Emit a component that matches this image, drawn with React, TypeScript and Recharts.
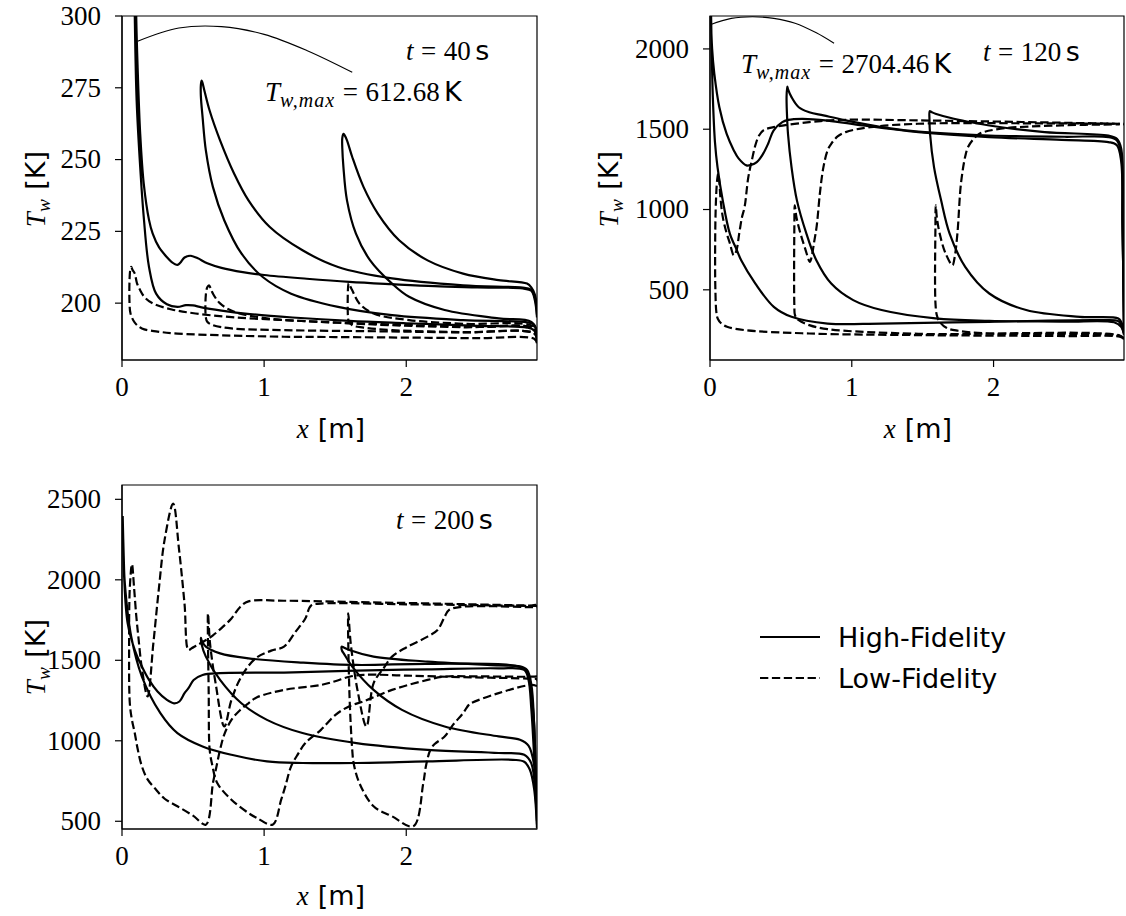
import React from 'react';
import { LineChart, Line, XAxis, YAxis, ReferenceArea } from 'recharts';

type P = [number, number];

// ---------- axes ----------
const X_TICKS = [0, 1, 2];
const X_DOMAIN: [number, number] = [0, 2.92];
const Y_TICKS_40 = [200, 225, 250, 275, 300];
const Y_TICKS_120 = [500, 1000, 1500, 2000];
const Y_TICKS_200 = [500, 1000, 1500, 2000, 2500];
const Y_DOMAIN_40: [number, number] = [180.2, 300];
const Y_DOMAIN_120: [number, number] = [63, 2205];
const Y_DOMAIN_200: [number, number] = [452, 2589];
const TIMES = [40, 120, 200];
const TW_MAX = [612.68, 2704.46];
const LEGEND_LABELS = ['High-Fidelity', 'Low-Fidelity'];

// ---------- t = 40 s ----------
const HF40_A: P[] = [
  [2.92, 195], [2.905, 201], [2.88, 204.3], [2.82, 205.1], [2.5, 205.5], [2.2, 205.9], [1.9, 206.6], [1.6, 207.4],
  [1.3, 208.5], [1.0, 209.8], [0.85, 210.8], [0.7, 212.3], [0.6, 213.9], [0.53, 215.7], [0.48, 216.5], [0.44, 215.9],
  [0.41, 214.1], [0.39, 213.3], [0.35, 214.3], [0.316, 216], [0.26, 219.5], [0.216, 224.2], [0.19, 229], [0.153, 241.6],
  [0.128, 259], [0.11, 282], [0.1, 300], [0.08, 380], [0.06, 612.68], [0.075, 380], [0.09, 300], [0.103, 270.6],
  [0.128, 247.4], [0.153, 230], [0.19, 212.6], [0.24, 203.3], [0.316, 199.6], [0.39, 198.7], [0.45, 199.3], [0.5, 199.2],
  [0.56, 198.5], [0.7, 197.4], [0.9, 196.2], [1.2, 195], [1.6, 193.8], [2.0, 193], [2.5, 192.1], [2.85, 191.5],
  [2.9, 190.5], [2.92, 187],
];
const HF40_B: P[] = [
  [2.92, 196], [2.905, 202], [2.88, 204.6], [2.85, 205.2], [2.4, 206.2], [1.9, 208.6], [1.52, 212.6], [1.27, 218.4],
  [1.04, 226.5], [0.89, 235.8], [0.79, 245], [0.69, 256.7], [0.617, 267], [0.58, 274], [0.565, 277], [0.56, 277.5],
  [0.555, 276], [0.555, 272], [0.567, 264.8], [0.59, 253.2], [0.64, 240.4], [0.72, 228.8], [0.84, 217.3], [0.99, 209.1],
  [1.19, 203.3], [1.52, 198.7], [1.9, 195.8], [2.4, 194.1], [2.85, 193.3], [2.9, 192.5], [2.92, 189],
];
const HF40_C: P[] = [
  [2.92, 198], [2.905, 203], [2.88, 205.5], [2.85, 206.8], [2.65, 208], [2.4, 210.3], [2.15, 214.9], [1.95, 221.9],
  [1.8, 231.2], [1.7, 240.4], [1.62, 250.9], [1.583, 256.7], [1.565, 258.6], [1.558, 259], [1.55, 257.5], [1.55, 254],
  [1.558, 247.4], [1.583, 235.8], [1.646, 224.2], [1.746, 214.9], [1.9, 206.8], [2.02, 202.2], [2.27, 197.6],
  [2.65, 194.7], [2.88, 193.5], [2.92, 190],
];
const LF40_A: P[] = [
  [2.92, 186], [2.9, 187.6], [2.5, 187.8], [2.0, 188], [1.5, 188.2], [1.14, 188.3], [0.7, 188.8], [0.39, 189.4],
  [0.25, 190.1], [0.14, 191.2], [0.09, 193.2], [0.06, 196.4], [0.053, 200], [0.053, 208], [0.058, 211.5], [0.065, 212.6],
  [0.075, 211.5], [0.09, 210.3], [0.105, 207], [0.128, 204.5], [0.16, 202], [0.216, 199.9], [0.35, 197.8], [0.517, 196.4],
  [0.8, 195], [1.14, 194.1], [1.5, 193.2], [1.9, 192.3], [2.4, 191.6], [2.9, 191.2], [2.92, 188],
];
const LF40_B: P[] = [
  [2.92, 187], [2.9, 189.5], [2.4, 189.8], [1.8, 190.2], [1.14, 190.6], [0.77, 191.2], [0.64, 192.3], [0.6, 193.5],
  [0.59, 195], [0.59, 203], [0.6, 205.5], [0.612, 206.2], [0.625, 205], [0.64, 203.3], [0.69, 199.9], [0.79, 197],
  [1.02, 194.7], [1.4, 193.5], [2.0, 192.4], [2.5, 191.7], [2.9, 191.2], [2.92, 188],
];
const LF40_C: P[] = [
  [2.92, 187], [2.9, 189.5], [2.4, 189.9], [1.9, 190.6], [1.7, 191.5], [1.62, 192.3], [1.595, 193.8], [1.59, 195.2],
  [1.59, 205], [1.595, 207], [1.605, 206], [1.62, 204.5], [1.67, 199.9], [1.77, 196.4], [2.02, 194.1], [2.4, 192.8],
  [2.9, 191.8], [2.92, 188],
];
const ARC40: P[] = [[0.11, 291.2], [0.4, 295.8], [0.7, 296.3], [1.0, 293.6], [1.3, 288], [1.62, 280.4]];

// ---------- t = 120 s ----------
const HF120_A: P[] = [
  [2.92, 229], [2.91, 900], [2.9, 1300], [2.87, 1400], [2.81, 1420], [2.48, 1434], [1.97, 1451], [1.47, 1482],
  [1.08, 1523], [0.83, 1554], [0.65, 1565], [0.55, 1558], [0.51, 1544], [0.448, 1492], [0.41, 1410], [0.37, 1340],
  [0.33, 1295], [0.29, 1278], [0.257, 1275], [0.2, 1320], [0.168, 1368], [0.117, 1472], [0.066, 1637], [0.03, 1850],
  [0.015, 2000], [0.005, 2250], [0.0, 2704.46], [0.006, 2300], [0.012, 2000], [0.02, 1700], [0.035, 1420],
  [0.053, 1264], [0.09, 1057], [0.14, 850], [0.19, 746], [0.22, 684], [0.32, 539], [0.45, 394], [0.575, 332],
  [0.83, 290], [1.21, 290], [1.97, 301], [2.74, 311], [2.88, 305], [2.9, 280], [2.92, 229],
];
const HF120_B: P[] = [
  [2.92, 250], [2.91, 900], [2.9, 1350], [2.87, 1430], [2.81, 1451], [2.5, 1453], [1.97, 1461], [1.47, 1485],
  [1.21, 1513], [0.957, 1555], [0.8, 1586], [0.7, 1606], [0.626, 1637], [0.575, 1700], [0.55, 1750], [0.545, 1766],
  [0.54, 1700], [0.545, 1550], [0.55, 1472], [0.575, 1264], [0.613, 1057], [0.68, 850], [0.75, 684], [0.855, 539],
  [1.01, 436], [1.21, 374], [1.59, 322], [1.97, 307], [2.5, 302], [2.85, 298], [2.9, 270], [2.92, 220],
];
const HF120_C: P[] = [
  [2.92, 250], [2.91, 900], [2.9, 1380], [2.87, 1440], [2.81, 1460], [2.36, 1482], [1.97, 1523], [1.72, 1565],
  [1.59, 1596], [1.56, 1608], [1.55, 1612], [1.548, 1560], [1.552, 1472], [1.58, 1264], [1.63, 1057], [1.69, 850],
  [1.8, 643], [1.97, 477], [2.23, 374], [2.61, 332], [2.88, 322], [2.9, 300], [2.92, 230],
];
const LF120_A: P[] = [
  [2.92, 195], [2.89, 208], [2.5, 212], [1.47, 218], [0.7, 228], [0.244, 249], [0.12, 270], [0.08, 290], [0.055, 320],
  [0.045, 360], [0.038, 500], [0.036, 700], [0.04, 1000], [0.05, 1180], [0.058, 1223], [0.065, 1180], [0.075, 1060],
  [0.09, 954], [0.115, 860], [0.14, 790], [0.168, 715], [0.185, 740], [0.206, 850], [0.225, 950], [0.244, 1016],
  [0.27, 1200], [0.295, 1306], [0.32, 1400], [0.346, 1461], [0.38, 1495], [0.448, 1513], [0.7, 1544], [0.957, 1559],
  [1.47, 1555], [2.2, 1545], [2.89, 1534], [2.92, 1534], [2.92, 200],
];
const LF120_B: P[] = [
  [2.92, 195], [2.89, 216], [1.47, 226], [0.83, 255], [0.7, 280], [0.626, 311], [0.6, 340], [0.595, 400], [0.595, 900],
  [0.598, 1026], [0.61, 950], [0.635, 860], [0.67, 760], [0.705, 674], [0.72, 720], [0.735, 800], [0.753, 900],
  [0.775, 1100], [0.8, 1264], [0.83, 1370], [0.855, 1409], [0.9, 1455], [0.957, 1482], [1.13, 1513], [1.466, 1534],
  [2.2, 1537], [2.89, 1534],
];
const LF120_C: P[] = [
  [2.92, 195], [2.89, 212], [1.97, 228], [1.75, 245], [1.67, 262], [1.62, 300], [1.6, 342], [1.59, 420], [1.59, 900],
  [1.592, 1026], [1.6, 950], [1.62, 850], [1.66, 730], [1.71, 653], [1.725, 700], [1.745, 850], [1.77, 1161],
  [1.8, 1330], [1.82, 1389], [1.86, 1440], [1.9, 1472], [2.05, 1503], [2.48, 1524], [2.89, 1530],
];
const ARC120: P[] = [[0.0, 2150], [0.15, 2190], [0.3, 2200], [0.45, 2190], [0.6, 2160], [0.75, 2100], [0.875, 2035]];

// ---------- t = 200 s ----------
const HF200_A: P[] = [
  [2.92, 460], [2.91, 700], [2.9, 900], [2.88, 1200], [2.86, 1380], [2.83, 1440], [2.65, 1450], [2.15, 1444],
  [1.65, 1436], [1.14, 1424], [0.69, 1420], [0.567, 1409], [0.504, 1378], [0.47, 1330], [0.44, 1296], [0.404, 1244],
  [0.366, 1233], [0.316, 1254], [0.25, 1306], [0.19, 1378], [0.14, 1461], [0.09, 1564], [0.04, 1729], [0.015, 2019],
  [0.005, 2390], [0.012, 2150], [0.02, 1977], [0.065, 1647], [0.14, 1399], [0.27, 1172], [0.39, 1048], [0.567, 965],
  [0.77, 913], [1.02, 872], [1.27, 862], [1.65, 862], [2.15, 872], [2.75, 882], [2.83, 870], [2.87, 820], [2.9, 700],
  [2.92, 460],
];
const HF200_B: P[] = [
  [2.92, 480], [2.91, 800], [2.9, 1100], [2.88, 1300], [2.85, 1430], [2.77, 1465], [2.15, 1478], [1.65, 1471],
  [1.27, 1486], [0.89, 1512], [0.69, 1543], [0.59, 1585], [0.56, 1625], [0.555, 1640], [0.56, 1600], [0.59, 1523],
  [0.69, 1378], [0.84, 1233], [1.02, 1130], [1.27, 1048], [1.65, 986], [2.15, 944], [2.65, 924], [2.83, 913],
  [2.88, 860], [2.91, 650], [2.92, 500],
];
const HF200_C: P[] = [
  [2.92, 500], [2.91, 850], [2.9, 1100], [2.88, 1350], [2.85, 1440], [2.8, 1462], [2.65, 1468], [2.15, 1492],
  [1.77, 1523], [1.6, 1564], [1.56, 1580], [1.546, 1585], [1.548, 1560], [1.56, 1543], [1.62, 1461], [1.77, 1316],
  [1.97, 1192], [2.27, 1089], [2.65, 1027], [2.8, 1006], [2.86, 970], [2.9, 850], [2.92, 600],
];
const LF200_A: P[] = [
  [2.92, 460], [2.92, 1380], [2.88, 1385], [2.4, 1395], [2.0, 1405], [1.7, 1410], [1.6, 1398], [1.5, 1370], [1.4, 1347],
  [1.14, 1316], [0.95, 1270], [0.89, 1233], [0.83, 1190], [0.77, 1130], [0.72, 1040], [0.69, 944], [0.66, 820],
  [0.64, 738], [0.59, 479], [0.5, 535], [0.39, 593], [0.3, 640], [0.24, 696], [0.18, 760], [0.14, 841], [0.11, 950],
  [0.09, 1047], [0.07, 1130], [0.055, 1233], [0.05, 1600], [0.055, 1950], [0.07, 2097], [0.085, 1950], [0.1, 1780],
  [0.115, 1647], [0.14, 1450], [0.18, 1275], [0.22, 1600], [0.26, 1950], [0.3, 2250], [0.36, 2473], [0.4, 2200],
  [0.44, 1850], [0.467, 1564], [0.49, 1575], [0.52, 1590], [0.58, 1620], [0.64, 1655], [0.7, 1700], [0.77, 1760],
  [0.83, 1830], [0.89, 1866], [1.14, 1870], [1.65, 1862], [2.4, 1849], [2.88, 1840], [2.92, 1840], [2.92, 460],
];
const LF200_B: P[] = [
  [2.92, 1400], [2.88, 1398], [2.5, 1400], [2.27, 1399], [2.15, 1378], [1.9, 1316], [1.7, 1245], [1.6, 1215],
  [1.5, 1160], [1.4, 1068], [1.29, 986], [1.24, 920], [1.19, 841], [1.15, 720], [1.12, 634], [1.06, 479], [0.95, 520],
  [0.89, 551], [0.77, 634], [0.67, 738], [0.635, 850], [0.617, 944], [0.61, 1300], [0.605, 1791], [0.62, 1600],
  [0.66, 1350], [0.72, 1089], [0.77, 1254], [0.84, 1399], [0.94, 1512], [1.05, 1560], [1.14, 1585], [1.22, 1676],
  [1.29, 1760], [1.33, 1840], [1.4, 1852], [2.0, 1848], [2.88, 1838], [2.92, 1838],
];
const LF200_C: P[] = [
  [2.92, 1340], [2.88, 1347], [2.65, 1296], [2.46, 1235], [2.44, 1223], [2.4, 1172], [2.33, 1100], [2.27, 1027],
  [2.2, 980], [2.17, 944], [2.14, 850], [2.12, 738], [2.05, 469], [1.9, 531], [1.77, 593], [1.67, 738], [1.63, 860],
  [1.62, 944], [1.6, 1300], [1.592, 1791], [1.61, 1600], [1.66, 1300], [1.72, 1089], [1.77, 1357], [1.84, 1450],
  [1.9, 1523], [2.0, 1580], [2.15, 1647], [2.22, 1688], [2.27, 1770], [2.3, 1812], [2.4, 1833], [2.88, 1830],
  [2.92, 1830],
];

// ---------- helpers ----------
const SERIF = "'Liberation Serif', 'DejaVu Serif', serif";
const SANS = "'DejaVu Sans', sans-serif";
const FS = 27;
const LW = 2.2;
const DASH = '8.3 3.6';
const SPINE = 1.2;

const toData = (pts: P[]) => pts.map(([x, y]) => ({ x, y }));

// centripetal Catmull-Rom curve factory (smooth path through the read points)
const smoothCurve: any = (context: any) => {
  let pts: number[][] = [];
  return {
    areaStart() {},
    areaEnd() {},
    lineStart() { pts = []; },
    lineEnd() {
      const n = pts.length;
      if (!n) return;
      context.moveTo(pts[0][0], pts[0][1]);
      for (let i = 0; i < n - 1; i++) {
        const p0 = pts[Math.max(0, i - 1)];
        const p1 = pts[i];
        const p2 = pts[i + 1];
        const p3 = pts[Math.min(n - 1, i + 2)];
        const d01 = Math.hypot(p1[0] - p0[0], p1[1] - p0[1]);
        const d12 = Math.hypot(p2[0] - p1[0], p2[1] - p1[1]);
        const d23 = Math.hypot(p3[0] - p2[0], p3[1] - p2[1]);
        const a01 = Math.sqrt(d01), a12 = Math.sqrt(d12), a23 = Math.sqrt(d23);
        let c1x = p1[0], c1y = p1[1], c2x = p2[0], c2y = p2[1];
        if (a01 > 1e-9 && a12 > 1e-9) {
          const A = 2 * d01 + 3 * a01 * a12 + d12;
          const N = 3 * a01 * (a01 + a12);
          c1x = (p1[0] * A - p0[0] * d12 + p2[0] * d01) / N;
          c1y = (p1[1] * A - p0[1] * d12 + p2[1] * d01) / N;
        }
        if (a23 > 1e-9 && a12 > 1e-9) {
          const B = 2 * d23 + 3 * a23 * a12 + d12;
          const M = 3 * a23 * (a23 + a12);
          c2x = (p2[0] * B + p1[0] * d23 - p3[0] * d12) / M;
          c2y = (p2[1] * B + p1[1] * d23 - p3[1] * d12) / M;
        }
        context.bezierCurveTo(c1x, c1y, c2x, c2y, p2[0], p2[1]);
      }
    },
    point(x: number, y: number) { pts.push([+x, +y]); },
  };
};

const XTick = (props: any) => (
  <text x={props.x} y={props.y + FS * 0.72} textAnchor="middle" fontFamily={SERIF} fontSize={FS} fill="#000">
    {props.payload.value}
  </text>
);
const YTick = (props: any) => (
  <text x={props.x} y={props.y + FS * 0.33} textAnchor="end" fontFamily={SERIF} fontSize={FS} fill="#000">
    {props.payload.value}
  </text>
);

type PanelProps = {
  left: number; top: number; width: number; height: number;
  margin: { top: number; right: number; bottom: number; left: number };
  yWidth: number; yDomain: [number, number]; yTicks: number[];
  hf: P[][]; lf: P[][]; arc?: P[];
};

const Panel = ({ left, top, width, height, margin, yWidth, yDomain, yTicks, hf, lf, arc }: PanelProps) => (
  <div style={{ position: 'absolute', left, top, width, height }}>
    <LineChart width={width} height={height} margin={margin}>
      <XAxis
        type="number" dataKey="x" domain={X_DOMAIN} ticks={X_TICKS} allowDataOverflow interval={0}
        height={70} tickSize={7} tickMargin={10}
        axisLine={{ stroke: '#000', strokeWidth: SPINE }} tickLine={{ stroke: '#000', strokeWidth: SPINE }}
        tick={<XTick />}
      />
      <YAxis
        type="number" domain={yDomain} ticks={yTicks} allowDataOverflow interval={0}
        width={yWidth} tickSize={7} tickMargin={14}
        axisLine={{ stroke: '#000', strokeWidth: SPINE }} tickLine={{ stroke: '#000', strokeWidth: SPINE }}
        tick={<YTick />}
      />
      <ReferenceArea x1={X_DOMAIN[0]} x2={X_DOMAIN[1]} y1={yDomain[0]} y2={yDomain[1]}
        fill="none" fillOpacity={0} stroke="#000" strokeWidth={SPINE} />
      {lf.map((pts, i) => (
        <Line key={'lf' + i} name={'lf' + i} data={toData(pts)} dataKey="y" type={smoothCurve}
          stroke="#000" strokeWidth={LW} strokeDasharray={DASH} dot={false} activeDot={false}
          isAnimationActive={false} />
      ))}
      {hf.map((pts, i) => (
        <Line key={'hf' + i} name={'hf' + i} data={toData(pts)} dataKey="y" type={smoothCurve}
          stroke="#000" strokeWidth={LW} dot={false} activeDot={false} isAnimationActive={false} />
      ))}
      {arc && (
        <Line key="arc" name="arc" data={toData(arc)} dataKey="y" type={smoothCurve}
          stroke="#000" strokeWidth={1.1} dot={false} activeDot={false} isAnimationActive={false} />
      )}
    </LineChart>
  </div>
);

const YLabel = ({ x, y }: { x: number; y: number }) => (
  <text transform={`rotate(-90, ${x}, ${y})`} x={x} y={y} textAnchor="middle" fontSize={FS} fill="#000">
    <tspan fontFamily={SERIF} fontStyle="italic">T</tspan>
    <tspan fontFamily={SERIF} fontStyle="italic" fontSize={FS * 0.72} dy={5}>w</tspan>
    <tspan fontFamily={SANS} dy={-5} dx={FS * 0.35}>[K]</tspan>
  </text>
);

const XLabel = ({ x, y }: { x: number; y: number }) => (
  <text x={x} y={y} textAnchor="middle" fontSize={FS} fill="#000">
    <tspan fontFamily={SERIF} fontStyle="italic">x</tspan>
    <tspan fontFamily={SANS} dx={FS * 0.33}>[m]</tspan>
  </text>
);

const TimeNote = ({ x, y, t }: { x: number; y: number; t: number }) => (
  <text x={x} y={y} fontSize={FS} fill="#000">
    <tspan fontFamily={SERIF} fontStyle="italic">t</tspan>
    <tspan fontFamily={SERIF} dx={FS * 0.28}>=</tspan>
    <tspan fontFamily={SERIF} dx={FS * 0.28}>{t}</tspan>
    <tspan fontFamily={SANS} dx={FS * 0.16}>s</tspan>
  </text>
);

const MaxNote = ({ x, y, v }: { x: number; y: number; v: number }) => (
  <text x={x} y={y} fontSize={FS} fill="#000">
    <tspan fontFamily={SERIF} fontStyle="italic">T</tspan>
    <tspan fontFamily={SERIF} fontStyle="italic" fontSize={FS * 0.74} dy={6} letterSpacing={1}>w,max</tspan>
    <tspan fontFamily={SERIF} dy={-6} dx={FS * 0.28}>=</tspan>
    <tspan fontFamily={SERIF} dx={FS * 0.28}>{v.toFixed(2)}</tspan>
    <tspan fontFamily={SANS} dx={FS * 0.16}>K</tspan>
  </text>
);

export default function App() {
  return (
    <div style={{ position: 'absolute', left: 0, top: 0, width: 1126, height: 916, background: '#fff' }}>
      <Panel left={0} top={0} width={560} height={450}
        margin={{ top: 16, right: 23, bottom: 20, left: 0 }} yWidth={122}
        yDomain={Y_DOMAIN_40} yTicks={Y_TICKS_40}
        hf={[HF40_A, HF40_B, HF40_C]} lf={[LF40_A, LF40_B, LF40_C]} arc={ARC40} />
      <Panel left={560} top={0} width={566} height={450}
        margin={{ top: 16, right: 2, bottom: 20, left: 0 }} yWidth={150}
        yDomain={Y_DOMAIN_120} yTicks={Y_TICKS_120}
        hf={[HF120_A, HF120_B, HF120_C]} lf={[LF120_A, LF120_B, LF120_C]} arc={ARC120} />
      <Panel left={0} top={450} width={560} height={466}
        margin={{ top: 35, right: 23, bottom: 17, left: 0 }} yWidth={122}
        yDomain={Y_DOMAIN_200} yTicks={Y_TICKS_200}
        hf={[HF200_A, HF200_B, HF200_C]} lf={[LF200_A, LF200_B, LF200_C]} />
      <svg width={1126} height={916} style={{ position: 'absolute', left: 0, top: 0, pointerEvents: 'none' }}>
        <YLabel x={45} y={189} />
        <YLabel x={618} y={189} />
        <YLabel x={45} y={657} />
        <XLabel x={331} y={438} />
        <XLabel x={918} y={438} />
        <XLabel x={331} y={905} />
        <TimeNote x={406} y={60} t={TIMES[0]} />
        <MaxNote x={265} y={101} v={TW_MAX[0]} />
        <MaxNote x={741} y={73} v={TW_MAX[1]} />
        <TimeNote x={983} y={61} t={TIMES[1]} />
        <TimeNote x={396} y={529} t={TIMES[2]} />
        <line x1={760} y1={637} x2={820} y2={637} stroke="#000" strokeWidth={LW} />
        <line x1={760} y1={678} x2={820} y2={678} stroke="#000" strokeWidth={LW} strokeDasharray={DASH} />
        <text x={838} y={647} fontSize={FS} fontFamily={SANS} fill="#000">{LEGEND_LABELS[0]}</text>
        <text x={838} y={688} fontSize={FS} fontFamily={SANS} fill="#000">{LEGEND_LABELS[1]}</text>
      </svg>
    </div>
  );
}
